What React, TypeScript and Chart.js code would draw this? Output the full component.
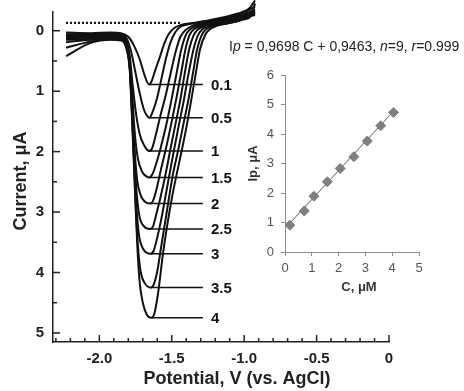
import React, { useEffect, useRef } from "react";
import { Chart, registerables } from "chart.js";
Chart.register(...registerables);

// ---------- main voltammogram data (potential V, current µA) ----------
const concLabels = ["0.1", "0.5", "1", "1.5", "2", "2.5", "3", "3.5", "4"];

const curve01: [number, number][] = [[-2.23,0.03],[-2.06,0.04],[-1.92,0.03],[-1.85,0.04],[-1.8,0.1],[-1.76,0.25],[-1.72,0.48],[-1.69,0.72],[-1.67,0.85],[-1.655,0.89],[-1.64,0.84],[-1.615,0.66],[-1.58,0.42],[-1.55,0.2],[-1.52,0.05],[-1.48,-0.05],[-1.43,-0.1],[-1.35,-0.13],[-1.25,-0.17],[-1.15,-0.22],[-1.05,-0.28],[-0.96,-0.38],[-0.925,-0.5]];
const curve05: [number, number][] = [[-2.23,0.06],[-2.06,0.06],[-1.92,0.05],[-1.85,0.06],[-1.81,0.13],[-1.78,0.35],[-1.75,0.7],[-1.72,1.05],[-1.69,1.32],[-1.67,1.41],[-1.655,1.44],[-1.63,1.33],[-1.6,1.1],[-1.57,0.78],[-1.54,0.46],[-1.51,0.2],[-1.48,0.04],[-1.45,-0.05],[-1.4,-0.1],[-1.3,-0.14],[-1.2,-0.18],[-1.1,-0.23],[-1.0,-0.3],[-0.925,-0.4]];
const curve1: [number, number][] = [[-2.23,0.08],[-2.06,0.08],[-1.92,0.07],[-1.85,0.08],[-1.815,0.15],[-1.79,0.42],[-1.77,0.9],[-1.745,1.4],[-1.72,1.72],[-1.69,1.9],[-1.67,1.97],[-1.655,1.99],[-1.635,1.94],[-1.61,1.72],[-1.58,1.42],[-1.54,1.05],[-1.5,0.62],[-1.47,0.32],[-1.44,0.1],[-1.41,0.0],[-1.36,-0.08],[-1.3,-0.12],[-1.2,-0.16],[-1.1,-0.21],[-1.0,-0.27],[-0.925,-0.35]];
const curve15: [number, number][] = [[-2.23,0.1],[-2.06,0.1],[-1.92,0.09],[-1.85,0.1],[-1.815,0.18],[-1.79,0.5],[-1.772,1.1],[-1.755,1.7],[-1.735,2.1],[-1.705,2.33],[-1.675,2.41],[-1.655,2.43],[-1.635,2.38],[-1.61,2.22],[-1.58,1.97],[-1.54,1.58],[-1.5,1.12],[-1.465,0.68],[-1.435,0.32],[-1.405,0.08],[-1.375,-0.02],[-1.33,-0.08],[-1.25,-0.12],[-1.15,-0.17],[-1.05,-0.22],[-0.925,-0.33]];
const curve2: [number, number][] = [[-2.23,0.12],[-2.06,0.12],[-1.92,0.11],[-1.85,0.12],[-1.815,0.2],[-1.79,0.55],[-1.773,1.2],[-1.757,1.95],[-1.74,2.45],[-1.715,2.72],[-1.685,2.83],[-1.65,2.86],[-1.63,2.82],[-1.605,2.62],[-1.575,2.3],[-1.54,1.95],[-1.5,1.5],[-1.465,1.08],[-1.435,0.7],[-1.405,0.3],[-1.375,0.06],[-1.345,-0.03],[-1.3,-0.08],[-1.22,-0.12],[-1.12,-0.17],[-1.02,-0.22],[-0.925,-0.31]];
const curve25: [number, number][] = [[-2.23,0.15],[-2.06,0.14],[-1.92,0.12],[-1.85,0.13],[-1.815,0.22],[-1.79,0.58],[-1.774,1.25],[-1.758,2.05],[-1.742,2.7],[-1.722,3.08],[-1.69,3.24],[-1.65,3.28],[-1.63,3.24],[-1.605,3.02],[-1.58,2.78],[-1.545,2.4],[-1.51,1.97],[-1.475,1.55],[-1.44,1.13],[-1.41,0.7],[-1.38,0.31],[-1.35,0.08],[-1.32,-0.02],[-1.27,-0.08],[-1.18,-0.12],[-1.08,-0.17],[-0.99,-0.22],[-0.925,-0.3]];
const curve3: [number, number][] = [[-2.23,0.19],[-2.06,0.15],[-1.92,0.13],[-1.85,0.14],[-1.815,0.24],[-1.79,0.6],[-1.775,1.3],[-1.76,2.1],[-1.745,2.85],[-1.728,3.35],[-1.695,3.62],[-1.645,3.69],[-1.625,3.64],[-1.6,3.42],[-1.575,3.15],[-1.55,2.83],[-1.52,2.43],[-1.485,1.98],[-1.45,1.55],[-1.415,1.13],[-1.385,0.72],[-1.35,0.31],[-1.32,0.08],[-1.29,-0.02],[-1.24,-0.08],[-1.15,-0.12],[-1.05,-0.17],[-0.97,-0.23],[-0.925,-0.28]];
const curve35: [number, number][] = [[-2.23,0.28],[-2.06,0.18],[-1.92,0.14],[-1.85,0.15],[-1.815,0.26],[-1.79,0.62],[-1.776,1.3],[-1.762,2.1],[-1.748,2.9],[-1.734,3.55],[-1.715,3.98],[-1.685,4.18],[-1.645,4.25],[-1.625,4.2],[-1.6,3.98],[-1.578,3.65],[-1.55,3.23],[-1.52,2.78],[-1.49,2.35],[-1.455,1.97],[-1.42,1.55],[-1.385,1.14],[-1.355,0.72],[-1.325,0.31],[-1.295,0.08],[-1.265,-0.02],[-1.21,-0.08],[-1.12,-0.12],[-1.03,-0.17],[-0.96,-0.24],[-0.925,-0.26]];
const curve4: [number, number][] = [[-2.23,0.42],[-2.06,0.2],[-1.92,0.15],[-1.85,0.16],[-1.815,0.28],[-1.79,0.65],[-1.777,1.3],[-1.763,2.1],[-1.75,2.9],[-1.737,3.6],[-1.722,4.15],[-1.7,4.5],[-1.672,4.7],[-1.64,4.75],[-1.62,4.68],[-1.595,4.35],[-1.56,3.68],[-1.53,3.2],[-1.5,2.78],[-1.465,2.36],[-1.43,1.97],[-1.395,1.55],[-1.365,1.14],[-1.335,0.72],[-1.305,0.31],[-1.27,0.07],[-1.24,-0.02],[-1.19,-0.08],[-1.1,-0.13],[-1.0,-0.19],[-0.95,-0.25],[-0.925,-0.45]];

const curves = [curve01, curve05, curve1, curve15, curve2, curve25, curve3, curve35, curve4];
const blankLine: [number, number][] = [[-2.23, -0.13], [-1.43, -0.13]];

const xTickValues = [-2, -1.5, -1, -0.5, 0];
const yTickValues = [0, 1, 2, 3, 4, 5];
const leaderEndV = -1.285;

// ---------- inset calibration data ----------
const concC = [0.18, 0.72, 1.08, 1.58, 2.06, 2.57, 3.07, 3.57, 4.05];
const peakIp = [0.91, 1.39, 1.89, 2.38, 2.83, 3.23, 3.76, 4.28, 4.73];
const fitC = [0.05, 4.1];
const fitIp = [0.85, 4.82];

const FONT = "'Liberation Sans', Arial, sans-serif";

const zeroPad = (s: any) => {
  s.paddingTop = 0;
  s.paddingBottom = 0;
  s.paddingLeft = 0;
  s.paddingRight = 0;
};

const mainDeco = {
  id: "mainDeco",
  afterDraw(chart: any) {
    const { ctx, chartArea, scales } = chart;
    const x = scales.x, y = scales.y;
    ctx.save();
    ctx.strokeStyle = "#222";
    ctx.lineWidth = 1.5;
    // inward ticks
    for (let k = -23; k <= 0; k++) {
      const px = x.getPixelForValue(k / 10);
      const len = k % 5 === 0 ? 7 : 4;
      ctx.beginPath(); ctx.moveTo(px, chartArea.bottom); ctx.lineTo(px, chartArea.bottom - len); ctx.stroke();
    }
    for (let k = 0; k <= 10; k++) {
      const py = y.getPixelForValue(k / 2);
      const len = k % 2 === 0 ? 7 : 4;
      ctx.beginPath(); ctx.moveTo(chartArea.left, py); ctx.lineTo(chartArea.left + len, py); ctx.stroke();
    }
    // leader lines + labels
    const xe = x.getPixelForValue(leaderEndV);
    ctx.fillStyle = "#111";
    ctx.font = `bold 15px ${FONT}`;
    ctx.textBaseline = "middle";
    ctx.textAlign = "left";
    curves.forEach((c, i) => {
      let best = c[0];
      c.forEach((p) => { if (p[1] > best[1]) best = p; });
      const px = x.getPixelForValue(best[0]);
      const py = y.getPixelForValue(best[1]);
      ctx.strokeStyle = "#111";
      ctx.lineWidth = 1.5;
      ctx.beginPath(); ctx.moveTo(px, py); ctx.lineTo(xe, py); ctx.stroke();
      ctx.fillText(concLabels[i], xe + 8, py + 1);
    });
    // axis titles
    ctx.fillStyle = "#222";
    ctx.font = `bold 18px ${FONT}`;
    ctx.textAlign = "center";
    ctx.fillText("Potential, V (vs. AgCl)", (chartArea.left + chartArea.right) / 2 + 16, 379);
    ctx.save();
    ctx.translate(21, 181);
    ctx.rotate(-Math.PI / 2);
    ctx.fillText("Current, \u03bcA", 0, 0);
    ctx.restore();
    // equation
    const segs: [string, boolean][] = [["I", false], ["p", true], [" = 0,9698 C + 0,9463, ", false], ["n", true], ["=9, ", false], ["r", true], ["=0.999", false]];
    let tx = 229;
    ctx.textAlign = "left";
    ctx.fillStyle = "#222";
    segs.forEach(([t, it]) => {
      ctx.font = `${it ? "italic " : ""}14px ${FONT}`;
      ctx.fillText(t, tx, 47);
      tx += ctx.measureText(t).width;
    });
    ctx.restore();
  },
};

const insetDeco = {
  id: "insetDeco",
  afterDraw(chart: any) {
    const { ctx, chartArea } = chart;
    ctx.save();
    ctx.fillStyle = "#333";
    ctx.font = `bold 13px ${FONT}`;
    ctx.textAlign = "center";
    ctx.textBaseline = "middle";
    ctx.fillText("C, \u03bcM", (chartArea.left + chartArea.right) / 2 + 7, 227);
    ctx.translate(13, (chartArea.top + chartArea.bottom) / 2);
    ctx.rotate(-Math.PI / 2);
    ctx.fillText("Ip, \u03bcA", 0, 0);
    ctx.restore();
  },
};

export default function App() {
  const mainRef = useRef<HTMLCanvasElement>(null);
  const insetRef = useRef<HTMLCanvasElement>(null);

  useEffect(() => {
    const main = new Chart(mainRef.current as HTMLCanvasElement, {
      type: "line",
      data: {
        datasets: [
          ...curves.map((c) => ({
            data: c.map(([px, py]) => ({ x: px, y: py })),
            borderColor: "#111",
            borderWidth: 2,
            pointRadius: 0,
            cubicInterpolationMode: "monotone" as const,
            clip: false as any,
            fill: false,
          })),
          {
            data: blankLine.map(([px, py]) => ({ x: px, y: py })),
            borderColor: "#111",
            borderWidth: 2.2,
            borderDash: [2, 2],
            pointRadius: 0,
            fill: false,
          },
        ],
      },
      options: {
        responsive: false,
        animation: false,
        events: [],
        layout: { padding: { left: 0, right: 75, top: 12, bottom: 0 } },
        plugins: { legend: { display: false }, tooltip: { enabled: false } },
        scales: {
          x: {
            type: "linear",
            min: -2.32,
            max: 0,
            grid: { display: false, drawTicks: false },
            border: { display: true, color: "#222", width: 1.5 },
            afterBuildTicks: (s: any) => { s.ticks = xTickValues.map((v) => ({ value: v })); },
            afterFit: (s: any) => { s.height = 49; zeroPad(s); },
            ticks: {
              padding: 8,
              color: "#222",
              autoSkip: false,
              maxRotation: 0,
              font: { family: FONT, size: 15, weight: "bold" },
              callback: (v: any) => (Number(v) === 0 ? "0" : Number(v).toFixed(1)),
            },
          },
          y: {
            type: "linear",
            reverse: true,
            min: -0.31,
            max: 5.15,
            grid: { display: false, drawTicks: false },
            border: { display: true, color: "#222", width: 1.5 },
            afterBuildTicks: (s: any) => { s.ticks = yTickValues.map((v) => ({ value: v })); },
            afterFit: (s: any) => { s.width = 53; zeroPad(s); },
            ticks: {
              padding: 9,
              color: "#222",
              font: { family: FONT, size: 15, weight: "bold" },
              callback: (v: any) => String(v),
            },
          },
        },
      },
      plugins: [mainDeco],
    });

    const inset = new Chart(insetRef.current as HTMLCanvasElement, {
      type: "scatter",
      data: {
        datasets: [
          {
            type: "line",
            data: fitC.map((c, i) => ({ x: c, y: fitIp[i] })),
            borderColor: "#595959",
            borderWidth: 1,
            pointRadius: 0,
            order: 2,
          } as any,
          {
            data: concC.map((c, i) => ({ x: c, y: peakIp[i] })),
            pointStyle: "rectRot",
            pointRadius: 5,
            backgroundColor: "#7f7f7f",
            borderColor: "#7f7f7f",
            order: 1,
          },
        ],
      },
      options: {
        responsive: false,
        animation: false,
        events: [],
        layout: { padding: { left: 0, right: 21, top: 15, bottom: 0 } },
        plugins: { legend: { display: false }, tooltip: { enabled: false } },
        scales: {
          x: {
            type: "linear",
            min: 0,
            max: 5,
            grid: { drawOnChartArea: false, tickLength: 4, color: "#8c8c8c" },
            border: { color: "#8c8c8c" },
            afterFit: (s: any) => { s.height = 48; zeroPad(s); },
            ticks: { stepSize: 1, padding: 5, color: "#555", font: { family: FONT, size: 13 } },
          },
          y: {
            type: "linear",
            min: 0,
            max: 6,
            grid: { drawOnChartArea: false, tickLength: 4, color: "#8c8c8c" },
            border: { color: "#8c8c8c" },
            afterFit: (s: any) => { s.width = 45; zeroPad(s); },
            ticks: { stepSize: 1, padding: 7, color: "#555", font: { family: FONT, size: 13 } },
          },
        },
      },
      plugins: [insetDeco],
    });

    return () => {
      main.destroy();
      inset.destroy();
    };
  }, []);

  return (
    <div style={{ position: "absolute", left: 0, top: 0, width: 464, height: 391, background: "#fff" }}>
      <canvas ref={mainRef} width={464} height={391} style={{ position: "absolute", left: 0, top: 0 }} />
      <canvas ref={insetRef} width={200} height={240} style={{ position: "absolute", left: 240, top: 60 }} />
    </div>
  );
}
